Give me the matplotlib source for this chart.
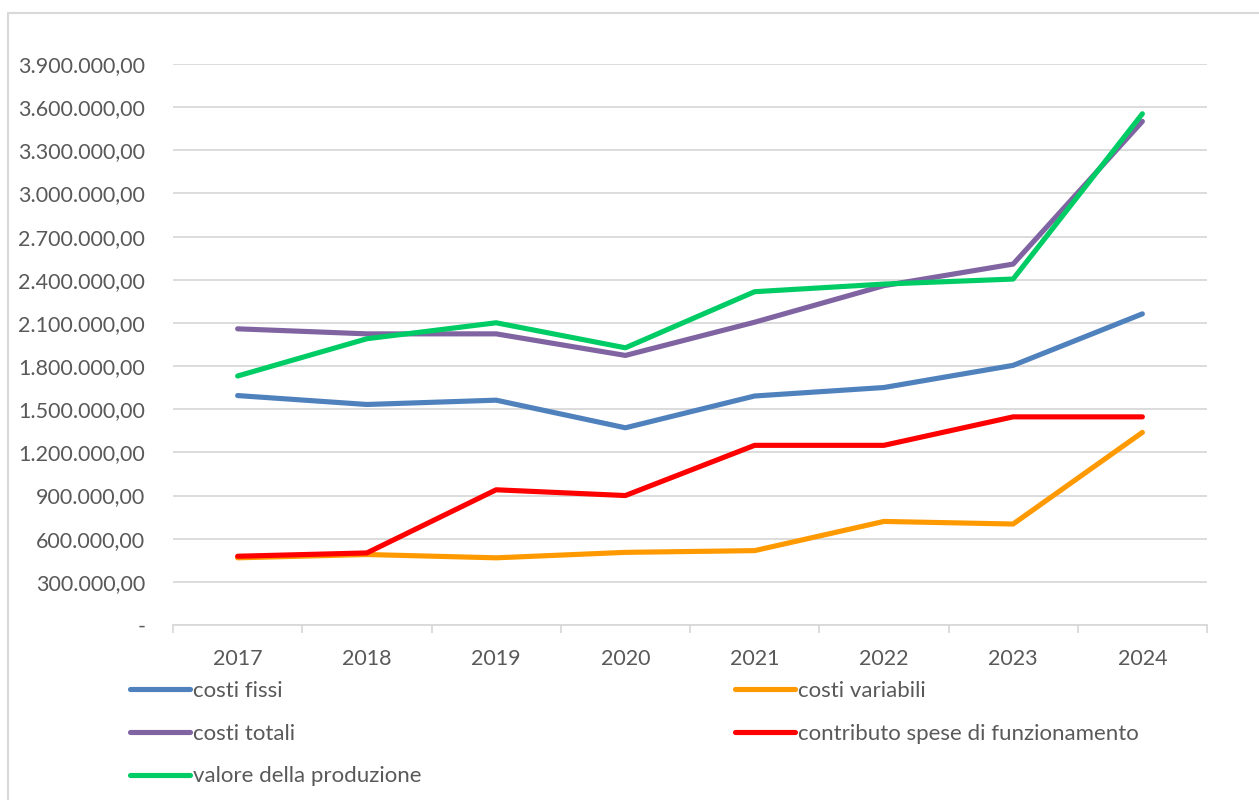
import matplotlib.pyplot as plt
from matplotlib.patches import Rectangle
from matplotlib.ticker import FuncFormatter, FixedLocator

plt.rcParams['font.family'] = ['Lato', 'DejaVu Sans']

years = ["2017", "2018", "2019", "2020", "2021", "2022", "2023", "2024"]

costi_fissi = [1595000, 1533000, 1563000, 1371000, 1592000, 1651000, 1805000, 2163000]
costi_variabili = [467000, 490000, 467000, 505000, 517000, 720000, 702000, 1339000]
costi_totali = [2059000, 2024000, 2024000, 1874000, 2105000, 2359000, 2509000, 3501000]
contributo = [478000, 501000, 940000, 900000, 1249000, 1249000, 1447000, 1447000]
valore_produzione = [1731000, 1990000, 2101000, 1927000, 2317000, 2370000, 2405000, 3554000]

series = [
    ("costi fissi", costi_fissi, "#4F81BD"),
    ("costi variabili", costi_variabili, "#FF9900"),
    ("costi totali", costi_totali, "#8064A2"),
    ("contributo spese di funzionamento", contributo, "#FF0000"),
    ("valore della produzione", valore_produzione, "#00CC66"),
]

TEXT = "#595959"
GRID = "#D9D9D9"


def fmt_it(v, pos=None):
    if v == 0:
        return "-"
    s = f"{v:,.2f}"
    return s.replace(",", "X").replace(".", ",").replace("X", ".")


fig = plt.figure(figsize=(12.59, 8), dpi=100)
fig.patches.append(Rectangle((8 / 1259, -0.1), 1.2, 1.1 - 13 / 800,
                             transform=fig.transFigure, fill=False,
                             edgecolor=GRID, linewidth=1.5))

ax = fig.add_axes([173 / 1259, 1 - 625 / 800, (1207 - 173) / 1259, (625 - 64) / 800])

x = list(range(len(years)))
lines = {}
for name, vals, color in series:
    ln, = ax.plot(x, vals, color=color, linewidth=3.7, label=name,
                  solid_capstyle="round", solid_joinstyle="round")
    lines[name] = ln

ax.set_xlim(-0.5, len(years) - 0.5)
ax.set_ylim(0, 3900000)
ax.yaxis.set_major_locator(FixedLocator([i * 300000 for i in range(14)]))
ax.yaxis.set_major_formatter(FuncFormatter(fmt_it))
ax.grid(axis="y", color=GRID, linewidth=1.3)
ax.set_axisbelow(True)

ax.set_xticks(x)
ax.set_xticklabels(years)
ax.set_xticks([i - 0.5 for i in range(len(years) + 1)], minor=True)
ax.tick_params(axis="x", which="major", length=0, pad=17, labelsize=15.5, labelcolor=TEXT)
ax.tick_params(axis="x", which="minor", length=6, width=1.3, color=GRID)
ax.tick_params(axis="y", length=0, pad=20, labelsize=15.5, labelcolor=TEXT)

for side in ["top", "right", "left"]:
    ax.spines[side].set_visible(False)
ax.spines["bottom"].set_color(GRID)
ax.spines["bottom"].set_linewidth(1.3)

col1 = ["costi fissi", "costi totali", "valore della produzione"]
col2 = ["costi variabili", "contributo spese di funzionamento"]
for names, xpos in [(col1, 130 / 1259), (col2, 735 / 1259)]:
    leg = fig.legend([lines[n] for n in names], names, loc="upper left",
                     bbox_to_anchor=(xpos, 1 - 681 / 800), frameon=False,
                     fontsize=16, handlelength=2.7, handletextpad=0.12,
                     labelspacing=1.02, borderpad=0, borderaxespad=0)
    for t in leg.get_texts():
        t.set_color(TEXT)

fig.savefig("out.png", dpi=100)
